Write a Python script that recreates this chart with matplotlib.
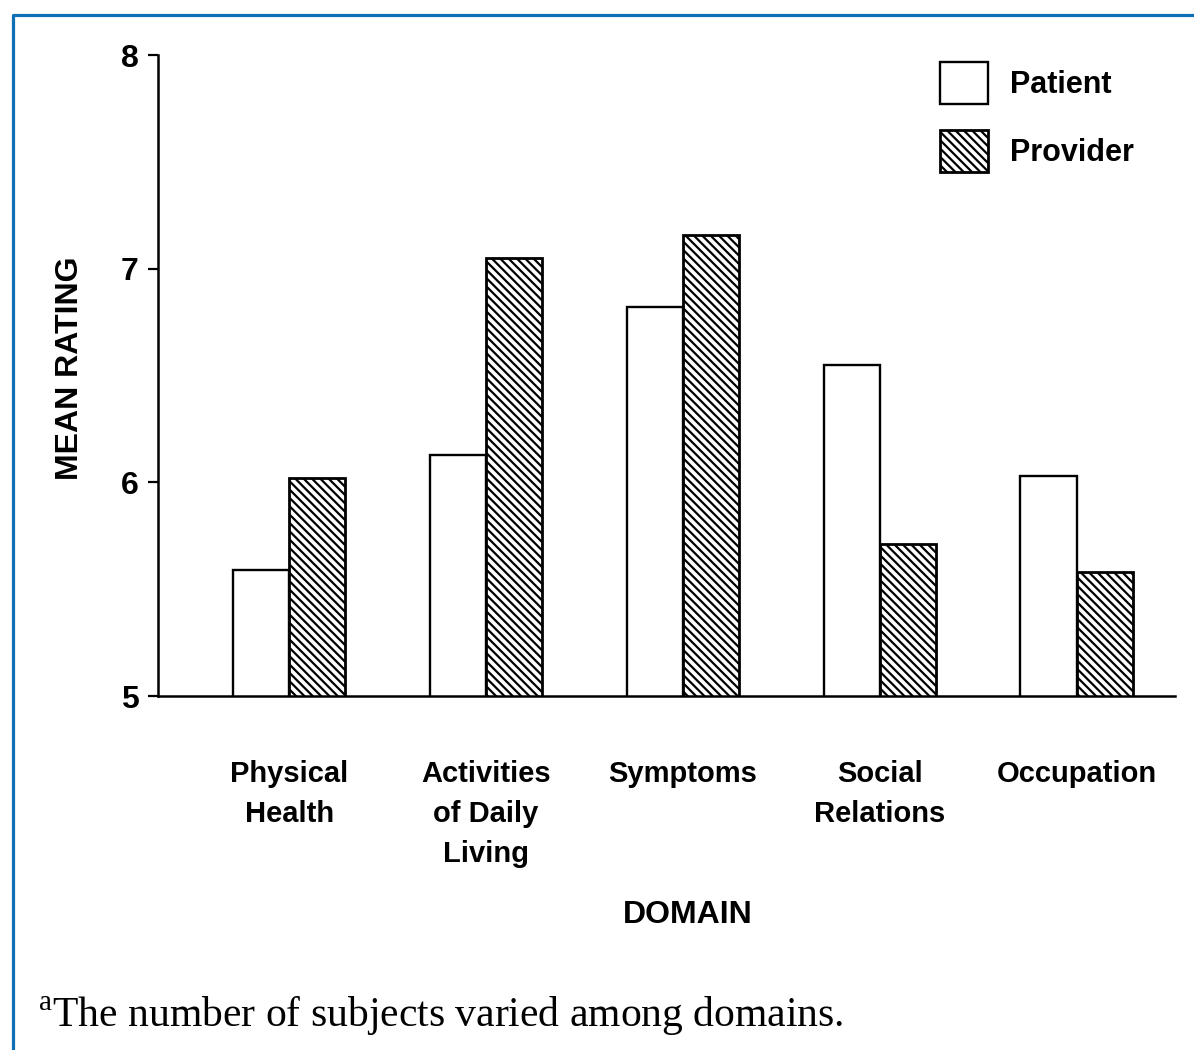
import numpy as np
import matplotlib
matplotlib.use('Agg')
import matplotlib.pyplot as plt
from matplotlib.lines import Line2D

# Mean rating per domain
domains = ['Physical\nHealth', 'Activities\nof Daily\nLiving', 'Symptoms',
           'Social\nRelations', 'Occupation']
patient = [5.59, 6.13, 6.82, 6.55, 6.03]
provider = [6.02, 7.05, 7.16, 5.71, 5.58]
y_ticks = [5, 6, 7, 8]

plt.rcParams['font.family'] = ['Liberation Sans', 'DejaVu Sans']
plt.rcParams['hatch.linewidth'] = 1.6
plt.rcParams['mathtext.fontset'] = 'custom'
plt.rcParams['mathtext.rm'] = 'Liberation Serif'

fig = plt.figure(figsize=(11.94, 10.5), dpi=100)
ax = fig.add_axes([0.1323, 0.3371, 0.8518, 0.6105])

x = np.arange(len(domains))
w = 0.285
ax.bar(x - w / 2, patient, w, color='white', edgecolor='black',
       linewidth=1.7, label='Patient')
ax.bar(x + w / 2, provider, w, color='white', edgecolor='black',
       linewidth=2.0, hatch='\\\\\\\\', label='Provider')

ax.set_ylim(5, 8)
ax.set_xlim(-0.667, 4.5)
ax.set_yticks(y_ticks)
ax.set_xticks(x)
ax.set_xticklabels(domains, fontsize=21, fontweight='bold', linespacing=1.55)
ax.tick_params(axis='x', length=0, pad=46)
ax.tick_params(axis='y', length=7, width=1.6, pad=7, labelsize=23)
for t in ax.get_yticklabels():
    t.set_fontweight('bold')

for s in ['top', 'right']:
    ax.spines[s].set_visible(False)
for s in ['left', 'bottom']:
    ax.spines[s].set_linewidth(1.8)

ax.set_ylabel('MEAN RATING', fontsize=23, fontweight='bold')
ax.yaxis.set_label_coords(-0.072, 0.512)
ax.set_xlabel('DOMAIN', fontsize=23, fontweight='bold')
ax.xaxis.set_label_coords(0.521, -0.318)

ax.legend(loc='upper left', bbox_to_anchor=(0.787, 0.941),
          bbox_transform=fig.transFigure, frameon=False,
          prop={'weight': 'bold', 'size': 22}, borderpad=0, borderaxespad=0,
          handlelength=1.57, handleheight=1.75, labelspacing=0.85,
          handletextpad=0.72)

fig.text(38 / 1194, 1 - 1027 / 1050,
         r'$^{\mathrm{a}}$The number of subjects varied among domains.',
         family='Liberation Serif', fontsize=30, va='baseline', ha='left')

# blue frame on the left and top
border = '#0e6fb4'
fig.add_artist(Line2D([12.5 / 1194, 12.5 / 1194, 1], [0, 1 - 14.5 / 1050, 1 - 14.5 / 1050],
                      transform=fig.transFigure, color=border, linewidth=2.3))

fig.savefig('out.png', dpi=100)
